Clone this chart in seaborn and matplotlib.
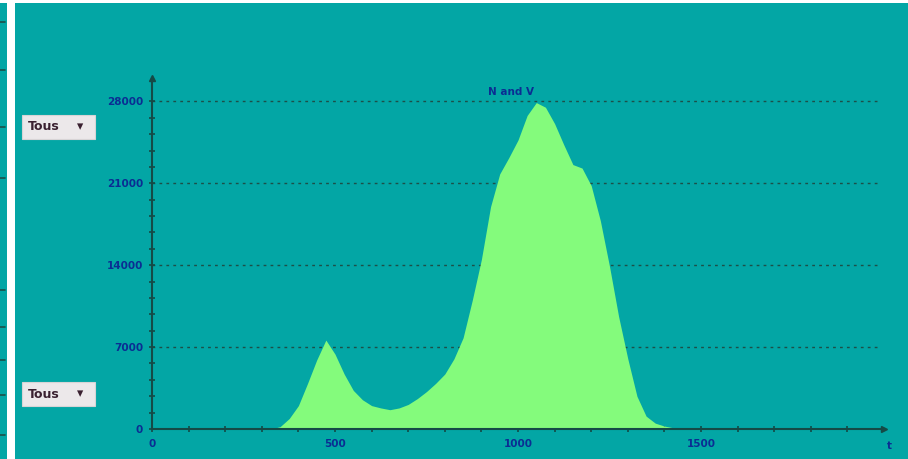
import matplotlib
matplotlib.use("Agg")
import matplotlib.pyplot as plt
import numpy as np
import pandas as pd
import seaborn as sns
from matplotlib.patches import Rectangle
from matplotlib.lines import Line2D

# ---------------------------------------------------------------------------
# Data (bin width 25)
# ---------------------------------------------------------------------------
bin_centers = [325, 350, 375, 400, 425, 450, 475, 500, 525, 550, 575, 600,
               625, 650, 675, 700, 725, 750, 775, 800, 825, 850, 875, 900,
               925, 950, 975, 1000, 1025, 1050, 1075, 1100, 1125, 1150, 1175,
               1200, 1225, 1250, 1275, 1300, 1325, 1350, 1375, 1400, 1425,
               1450, 1475]
counts = [0, 200, 900, 2000, 3900, 5900, 7600, 6400, 4700, 3300, 2500, 2000,
          1800, 1650, 1800, 2100, 2600, 3200, 3900, 4700, 6000, 7800, 11000,
          14500, 19000, 21800, 23200, 24700, 26800, 27900, 27500, 26100,
          24300, 22600, 22300, 20800, 17800, 13900, 9600, 6000, 2800, 1100,
          500, 250, 100, 40, 0]

x_major = [0, 500, 1000, 1500]
x_labels = ["0", "500", "1000", "1500"]
y_major = [0, 7000, 14000, 21000, 28000]
y_labels = ["0", "7000", "14000", "21000", "28000"]
title = "N and V"
button_text = "Tous  \u25be"

BG = "#03a6a5"
FILL = "#84fb7c"
AXIS = "#154a46"
LABEL = "#0b2d93"

df = pd.DataFrame({"value": bin_centers, "count": counts})

sns.set_theme(style="white")
plt.rcParams["font.family"] = ["DejaVu Sans"]

fig = plt.figure(figsize=(9.08, 4.59), dpi=100, facecolor=BG)
ax = fig.add_axes([152 / 908, 30 / 459, 732 / 908, 351 / 459])
ax.set_facecolor(BG)

sns.histplot(data=df, x="value", weights="count", binwidth=25, binrange=(312.5, 1487.5),
             element="poly", fill=True, color=FILL, alpha=1, linewidth=0, ax=ax)

ax.set_xlim(0, 2000)
ax.set_ylim(0, 30000)
ax.set_xlabel("")
ax.set_ylabel("")

# dashed horizontal grid
for yv in y_major[1:]:
    ax.axhline(yv, xmin=0, xmax=0.995, color="#1d4f48", lw=1.0, ls=(0, (2, 3)), zorder=0.5)

# spines
for s in ["top", "right"]:
    ax.spines[s].set_visible(False)
for s in ["left", "bottom"]:
    ax.spines[s].set_color(AXIS)
    ax.spines[s].set_linewidth(1.5)
    ax.spines[s].set_zorder(5)

# arrows at the ends of the axes
ax.plot([1.0], [0], marker=">", ms=5, color=AXIS, transform=ax.transAxes, clip_on=False)
ax.plot([0], [1.0], marker="^", ms=5, color=AXIS, transform=ax.transAxes, clip_on=False)

ax.set_xticks(x_major)
ax.set_xticklabels(x_labels)
ax.set_xticks(np.arange(0, 2000, 100), minor=True)
ax.set_yticks(y_major)
ax.set_yticklabels(y_labels)
ax.set_yticks(np.arange(0, 28001, 1400), minor=True)
ax.tick_params(axis="both", which="both", direction="inout", color=AXIS,
               length=5, width=1.2, bottom=True, left=True,
               labelsize=7.5, labelcolor=LABEL)
ax.tick_params(axis="x", pad=5)
ax.tick_params(axis="y", pad=4)
for lab in ax.get_xticklabels() + ax.get_yticklabels():
    lab.set_fontweight("bold")

# end label on the x axis
ax.text(1.008, -0.035, "t", transform=ax.transAxes, ha="center", va="top",
        fontsize=7.5, fontweight="bold", color=LABEL)

# chart title
ax.text(0.49, 0.96, title, transform=ax.transAxes, ha="center", va="center",
        fontsize=7.5, fontweight="bold", color=LABEL)

# "Tous" buttons on the left (box drawn separately so it can be sized)
for ypx in [127, 394]:
    fig.patches.append(Rectangle((22 / 908, 1 - (ypx + 12) / 459), 73 / 908, 24 / 459,
                                 transform=fig.transFigure, fc="#ece8ea",
                                 ec="#d8d4d6", lw=0.8, zorder=2))
    fig.text(28 / 908, 1 - ypx / 459, "Tous", ha="left", va="center",
             fontsize=9, fontweight="bold", color="#3a2030", zorder=4)
    fig.text(80 / 908, 1 - ypx / 459, "\u25be", ha="center", va="center",
             fontsize=9, fontweight="bold", color="#3a2030", zorder=4)

# left window strip and top edge
fig.patches.append(Rectangle((7 / 908, 0), 8 / 908, 1, transform=fig.transFigure,
                             fc="white", ec="none", zorder=3))
fig.patches.append(Rectangle((0, 1 - 3 / 459), 1, 3 / 459, transform=fig.transFigure,
                             fc="white", ec="none", zorder=3))
for ypx in [22, 70, 127, 178, 290, 327, 360, 395, 435]:
    fig.lines.append(Line2D([0, 5 / 908], [1 - ypx / 459] * 2, transform=fig.transFigure,
                            color="#1d4f48", lw=1.2))

fig.savefig("out.png", dpi=100, facecolor=BG)
